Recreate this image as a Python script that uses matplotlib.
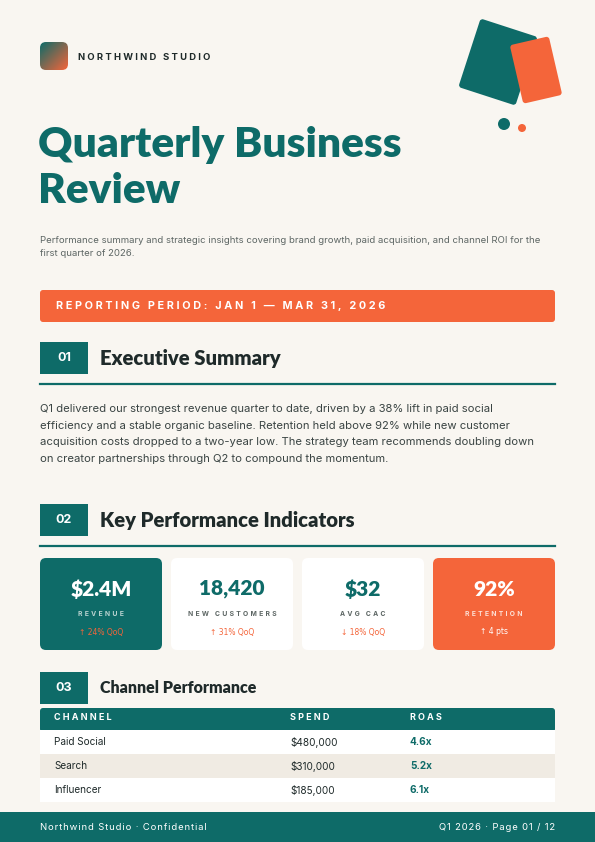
import matplotlib
matplotlib.use("Agg")
import matplotlib.pyplot as plt
import numpy as np
from matplotlib.patches import FancyBboxPatch, Rectangle, Circle
from matplotlib.transforms import Affine2D
from matplotlib.colors import LinearSegmentedColormap

TEAL = "#0e6b68"
ORANGE = "#f4653a"
BG = "#f9f6f1"
DARK = "#1f2a2a"
GREY = "#5d6664"

kpi_values = ["$2.4M", "18,420", "$32", "92%"]
kpi_labels = ["REVENUE", "NEW CUSTOMERS", "AVG CAC", "RETENTION"]
kpi_deltas = ["\u2191 24% QoQ", "\u2191 31% QoQ", "\u2193 18% QoQ", "\u2191 4 pts"]
kpi_styles = ["teal", "white", "white", "orange"]

channels = ["Paid Social", "Search", "Influencer"]
spend = [480000, 310000, 185000]
roas = [4.6, 5.2, 6.1]

HEAD = "Lato"
BODY = "Inter"


def spaced(s, sep="\u2009"):
    return sep.join(s)


fig = plt.figure(figsize=(5.95, 8.42), dpi=100)
fig.patch.set_facecolor(BG)
ax = fig.add_axes([0, 0, 1, 1])
ax.set_xlim(0, 595)
ax.set_ylim(842, 0)
ax.axis("off")


def rbox(x, y, w, h, color, r=4, **kw):
    p = FancyBboxPatch((x + r, y + r), w - 2 * r, h - 2 * r,
                       boxstyle="round,pad=%g" % r, fc=color, ec="none", **kw)
    ax.add_patch(p)
    return p


# logo
clip = rbox(40, 42, 28, 28, "none", r=6)
grad = np.linspace(0, 1, 64)
g = (grad[None, :] + grad[:, None]) / 2
cmap = LinearSegmentedColormap.from_list("lg", [TEAL, ORANGE])
im = ax.imshow(g, cmap=cmap, extent=(40, 68, 70, 42), zorder=1)
im.set_clip_path(clip)
ax.text(78, 58, spaced("NORTHWIND STUDIO", "\u2009\u200a"), fontsize=6.8, fontweight="bold",
        color=DARK, va="center", family=BODY)

# decorative shapes
t1 = Affine2D().rotate_deg_around(498, 62, 18) + ax.transData
ax.add_patch(FancyBboxPatch((471, 29), 54, 66, boxstyle="round,pad=3", fc=TEAL,
                            ec="none", transform=t1))
t2 = Affine2D().rotate_deg_around(536, 70, -13) + ax.transData
ax.add_patch(FancyBboxPatch((519, 43), 34, 54, boxstyle="round,pad=3", fc=ORANGE,
                            ec="none", transform=t2))
ax.add_patch(Circle((504, 124), 6, fc=TEAL, ec="none"))
ax.add_patch(Circle((522, 128), 4, fc=ORANGE, ec="none"))

# title
ax.text(38, 145, "Quarterly Business", fontsize=30.5, fontweight="heavy", color=TEAL,
        va="center", family=HEAD)
ax.text(38, 191, "Review", fontsize=30.5, fontweight="heavy", color=TEAL,
        va="center", family=HEAD)
ax.text(40, 247, "Performance summary and strategic insights covering brand growth, paid acquisition, and channel ROI for the\nfirst quarter of 2026.",
        fontsize=6.9, color=GREY, va="center", family=BODY, linespacing=1.55)

# reporting banner
rbox(40, 290, 515, 32, ORANGE, r=3)
ax.text(56, 306, spaced("REPORTING PERIOD: JAN 1 \u2014 MAR 31, 2026", "\u2009\u200a"),
        fontsize=7.8, fontweight="bold", color="white", va="center", family=BODY)


def section(y, num, title, size=14.6, rule=True):
    ax.add_patch(Rectangle((40, y), 48, 32, fc=TEAL, ec="none"))
    ax.text(64, y + 16, num, fontsize=9, fontweight="bold", color="white",
            ha="center", va="center", family=BODY)
    ax.text(100, y + 16, title, fontsize=size, fontweight="heavy", color=DARK,
            va="center", family=HEAD)
    if rule:
        ax.plot([40, 555], [y + 42, y + 42], color=TEAL, lw=1.6)


section(342, "01", "Executive Summary")
ax.text(40, 434, "Q1 delivered our strongest revenue quarter to date, driven by a 38% lift in paid social\n"
        "efficiency and a stable organic baseline. Retention held above 92% while new customer\n"
        "acquisition costs dropped to a two-year low. The strategy team recommends doubling down\n"
        "on creator partnerships through Q2 to compound the momentum.",
        fontsize=8.1, color="#3a4443", va="center", family=BODY, linespacing=1.85)

section(504, "02", "Key Performance Indicators")

card_w, gap = 122, 9
for i, (v, lab, d, st) in enumerate(zip(kpi_values, kpi_labels, kpi_deltas, kpi_styles)):
    x = 40 + i * (card_w + gap)
    fc = {"teal": TEAL, "white": "white", "orange": ORANGE}[st]
    rbox(x, 558, card_w, 92, fc, r=6)
    vc = "white" if st != "white" else TEAL
    lc = {"teal": "#b9d3d0", "white": GREY, "orange": "#fde0d5"}[st]
    dc = {"teal": ORANGE, "white": ORANGE, "orange": "white"}[st]
    cx = x + card_w / 2
    ax.text(cx, 589, v, fontsize=15, fontweight="heavy", color=vc, ha="center",
            va="center", family=HEAD)
    ax.text(cx, 614, spaced(lab, "\u2009\u2009"), fontsize=4.9, fontweight="bold", color=lc,
            ha="center", va="center", family=BODY)
    ax.text(cx, 632, d, fontsize=5.5, color=dc, ha="center", va="center",
            family="DejaVu Sans")

section(672, "03", "Channel Performance", size=11.5, rule=False)

# table
rbox(40, 708, 515, 24, TEAL, r=3)
for hx, h in zip([54, 290, 410], ["CHANNEL", "SPEND", "ROAS"]):
    ax.text(hx, 718, spaced(h, "\u2009\u200a"), fontsize=6.5, fontweight="bold", color="white",
            va="center", family=BODY)
for i, (c, s, r) in enumerate(zip(channels, spend, roas)):
    y = 730 + i * 24
    ax.add_patch(Rectangle((40, y), 515, 24, fc="white" if i % 2 == 0 else "#f0ebe3",
                           ec="none"))
    ax.text(54, y + 12, c, fontsize=7.2, color=DARK, va="center", family=BODY)
    ax.text(290, y + 12, "${:,}".format(s), fontsize=7.2, color=DARK, va="center",
            family=BODY)
    ax.text(410, y + 12, "{:.1f}x".format(r), fontsize=7.2, fontweight="bold",
            color=TEAL, va="center", family=BODY)

# footer
ax.add_patch(Rectangle((0, 812), 595, 30, fc=TEAL, ec="none"))
ax.text(40, 827, spaced("Northwind Studio \u00b7 Confidential", "\u200a"), fontsize=6.8,
        color="white", va="center", family=BODY)
ax.text(555, 827, spaced("Q1 2026 \u00b7 Page 01 / 12", "\u200a"), fontsize=6.8,
        color="white", va="center", ha="right", family=BODY)

fig.savefig("out.png", dpi=100, facecolor=BG)
